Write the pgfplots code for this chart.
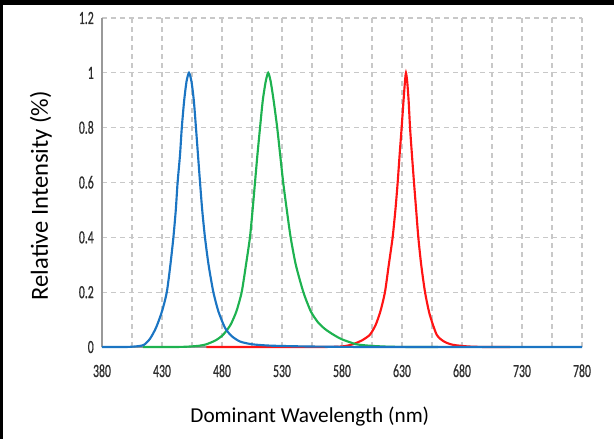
\documentclass[border=0pt]{standalone}
\usepackage{pgfplots}
\pgfplotsset{compat=1.18}
\usepackage{fontspec}
\setmainfont{Carlito}
\newfontfamily\tickfont[FakeStretch=0.63,FakeBold=0.6]{Carlito}
\definecolor{ledblue}{RGB}{27,117,195}
\definecolor{ledgreen}{RGB}{30,178,80}
\definecolor{ledred}{RGB}{255,20,20}
\definecolor{gridgray}{RGB}{200,200,200}
\definecolor{ticktext}{RGB}{45,45,45}
\begin{document}
\begin{tikzpicture}
\path[use as bounding box] (-76.5bp,-69bp) rectangle (384bp,260.25bp);
\fill[black] (-76.5bp,256.5bp) rectangle (384bp,260.25bp);
\fill[black] (-76.5bp,-69bp) rectangle (-74.25bp,260.25bp);
\begin{axis}[
  at={(0,0)}, anchor=south west,
  scale only axis, width=360bp, height=246.75bp,
  xmin=380, xmax=780, ymin=0, ymax=1.2,
  axis x line=bottom, axis y line=left,
  axis line style={draw=gray!80, line width=0.8bp, -},
  xtick={380,430,480,530,580,630,680,730,780},
  xticklabels={380,430,480,530,580,630,680,730,780},
  minor xtick={405,455,505,555,605,655,705,755},
  ytick={0,0.2,0.4,0.6,0.8,1,1.2},
  yticklabels={0,0.2,0.4,0.6,0.8,1,1.2},
  major tick length=0pt, minor tick length=0pt,
  grid=both,
  major grid style={draw=gridgray, line width=0.9bp, dash pattern=on 3.75bp off 3bp},
  minor grid style={draw=gridgray, line width=0.9bp, dash pattern=on 3.75bp off 3bp},
  xticklabel style={font=\fontsize{14}{16}\selectfont\tickfont, text=ticktext, inner sep=0pt, anchor=base, yshift=-22.5bp},
  yticklabel style={font=\fontsize{14}{16}\selectfont\tickfont, text=ticktext, inner sep=0pt, anchor=base east, xshift=-6bp, yshift=-4.5bp},
  xlabel={Dominant Wavelength (nm)},
  ylabel={Relative Intensity (\%)},
  every axis x label/.style={at={(axis description cs:0.433,-0.228)}, anchor=base, font=\fontsize{16}{19}\selectfont},
  every axis y label/.style={at={(axis description cs:-0.1125,0.46)}, rotate=90, anchor=base, font=\fontsize{18.5}{21}\selectfont},
  clip=false,
]
\addplot[ledred, line width=1.6bp, smooth, tension=0.4] coordinates {
(467,0) (560,0) (580,0.002) (589,0.01) (597,0.025) (603.3,0.045) (608,0.08) (612,0.13)
(615.8,0.2) (619,0.3) (622.2,0.4) (624.5,0.5) (626.4,0.6) (628,0.7) (629.7,0.8)
(631.3,0.9) (632.5,0.97) (633.3,1.0) (634.3,0.97) (635.5,0.9) (636.7,0.8) (638.3,0.7)
(640,0.6) (641.8,0.5) (643.6,0.4) (646,0.3) (649.2,0.2) (653,0.12) (658.9,0.045)
(665,0.02) (672.5,0.008) (685,0.002) (700,0) (720,0)
};
\addplot[ledgreen, line width=1.6bp, smooth, tension=0.4] coordinates {
(414,0) (440,0) (450,0.001) (460,0.004) (467,0.01) (475,0.025) (481,0.045) (487,0.08)
(492,0.13) (496.4,0.2) (500,0.3) (503.3,0.4) (505.5,0.5) (507.5,0.6) (509.5,0.7)
(511.7,0.8) (514,0.9) (516.5,0.97) (518.5,1.0) (520.5,0.97) (523,0.9) (526,0.8)
(528.5,0.7) (531,0.6) (534,0.5) (537.2,0.4) (541.5,0.3) (547.8,0.2) (554,0.13)
(560,0.09) (566,0.065) (572.8,0.045) (580,0.028) (592,0.01) (605,0.004) (620,0.001)
(640,0) (660,0)
};
\addplot[ledblue, line width=1.6bp, smooth, tension=0.4] coordinates {
(380,0) (400,0) (410,0.003) (415,0.008) (420,0.03) (425,0.07) (430,0.13) (434,0.2)
(437,0.3) (439.5,0.4) (441.5,0.5) (443,0.6) (445,0.7) (446.5,0.8) (448.5,0.9)
(450.5,0.97) (452.5,1.0) (454.5,0.97) (456.5,0.9) (458.3,0.8) (460,0.7) (461.7,0.6)
(463.5,0.5) (465.8,0.4) (468.8,0.3) (472.8,0.2) (477,0.13) (482.5,0.07) (488,0.04)
(495,0.02) (505,0.01) (520,0.005) (550,0.002) (600,0) (700,0) (780,0)
};
\end{axis}
\end{tikzpicture}
\end{document}
